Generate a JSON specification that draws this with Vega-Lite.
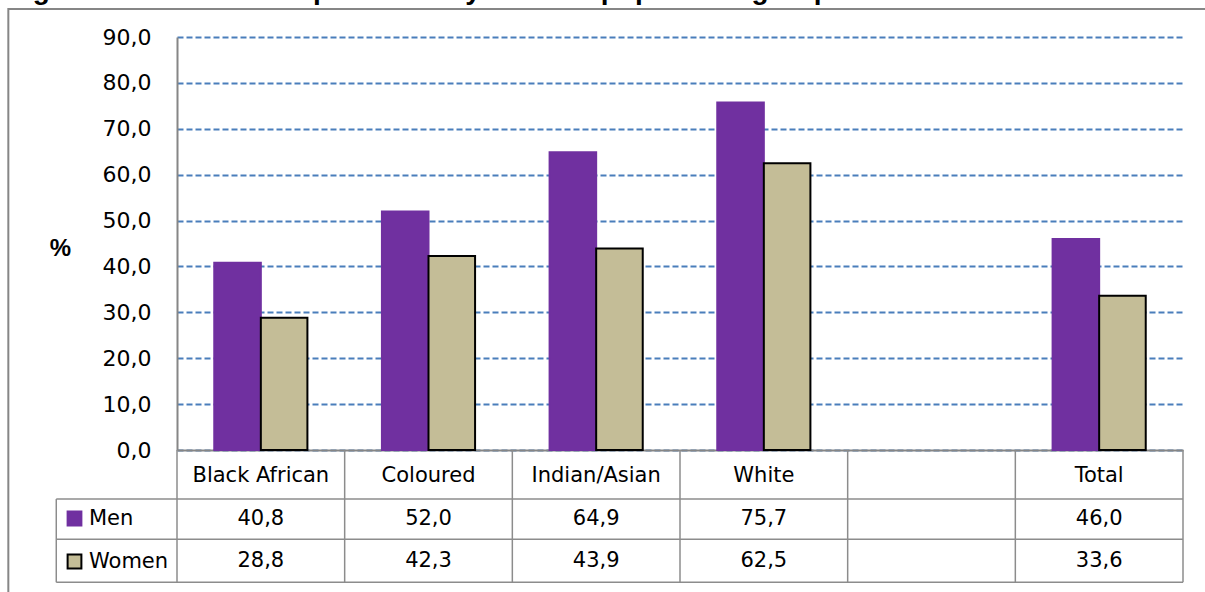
{
  "$schema": "https://vega.github.io/schema/vega-lite/v6.json",
  "width": 1006,
  "height": 413,
  "autosize": {"type": "none"},
  "padding": {"left": 177, "top": 37, "right": 22, "bottom": 142},
  "background": "white",
  "config": {
    "locale": {"number": {"decimal": ",", "thousands": " ", "grouping": [3], "currency": ["", ""]}},
    "view": {"stroke": null},
    "font": "DejaVu Sans"
  },
  "data": {
    "values": [
      {"group": "Black African", "sex": "Men", "value": 40.8},
      {"group": "Black African", "sex": "Women", "value": 28.8},
      {"group": "Coloured", "sex": "Men", "value": 52.0},
      {"group": "Coloured", "sex": "Women", "value": 42.3},
      {"group": "Indian/Asian", "sex": "Men", "value": 64.9},
      {"group": "Indian/Asian", "sex": "Women", "value": 43.9},
      {"group": "White", "sex": "Men", "value": 75.7},
      {"group": "White", "sex": "Women", "value": 62.5},
      {"group": "Total", "sex": "Men", "value": 46.0},
      {"group": "Total", "sex": "Women", "value": 33.6}
    ]
  },
  "layer": [
    {
      "layer": [
        {
          "mark": {"type": "bar", "strokeWidth": 2},
          "encoding": {
            "x": {
              "field": "group", "type": "nominal",
              "scale": {"domain": ["Black African", "Coloured", "Indian/Asian", "White", " ", "Total"], "paddingInner": 0, "paddingOuter": 0},
              "axis": {"title": null, "labelAngle": 0, "labelFont": "DejaVu Sans", "labelFontSize": 21, "labelColor": "black", "labelPadding": 25, "labelBaseline": "middle", "ticks": false, "domainColor": "#868686", "domainWidth": 2, "labelLimit": 300, "grid": false}
            },
            "xOffset": {
              "field": "sex", "type": "nominal",
              "scale": {"domain": ["Men", "Women"], "paddingInner": 0, "paddingOuter": 0.8}
            },
            "y": {
              "field": "value", "type": "quantitative",
              "scale": {"domain": [0, 90], "nice": false},
              "axis": {
                "title": "%", "titleAngle": 0, "titleFont": "Liberation Sans", "titleFontSize": 24, "titleFontWeight": "bold", "titleColor": "black",
                "titleX": -117, "titleY": 211, "titleAlign": "center", "titleBaseline": "middle",
                "values": [0, 10, 20, 30, 40, 50, 60, 70, 80, 90], "format": ".1f",
                "labelFont": "DejaVu Sans", "labelFontSize": 22, "labelColor": "black", "labelPadding": 26,
                "ticks": false, "domainColor": "#868686", "domainWidth": 2,
                "grid": true, "gridColor": "#4A7EBB", "gridDash": [6, 3], "gridWidth": 1.8
              }
            },
            "color": {
              "field": "sex", "type": "nominal",
              "scale": {"domain": ["Men", "Women"], "range": ["#7030A0", "#C4BD97"]},
              "legend": {"orient": "none", "legendX": -113, "legendY": 471, "title": null, "symbolType": "square", "symbolSize": 190, "symbolStrokeWidth": 2, "labelFont": "DejaVu Sans", "labelFontSize": 21, "labelColor": "black", "labelOffset": 4, "rowPadding": 20, "padding": 0, "direction": "vertical"}
            },
            "stroke": {
              "field": "sex", "type": "nominal",
              "scale": {"domain": ["Men", "Women"], "range": ["#7030A0", "#000000"]},
              "legend": {"orient": "none", "legendX": -113, "legendY": 471, "title": null, "symbolType": "square", "symbolSize": 190, "symbolStrokeWidth": 2, "labelFont": "DejaVu Sans", "labelFontSize": 21, "labelColor": "black", "labelOffset": 4, "rowPadding": 20, "padding": 0, "direction": "vertical"}
            }
          }
        },
        {
          "transform": [{"filter": "datum.sex === 'Men'"}],
          "mark": {"type": "text", "font": "DejaVu Sans", "fontSize": 21, "color": "black", "baseline": "middle"},
          "encoding": {
            "x": {"field": "group", "type": "nominal", "scale": {"domain": ["Black African", "Coloured", "Indian/Asian", "White", " ", "Total"], "paddingInner": 0, "paddingOuter": 0}},
            "y": {"datum": -15.0, "type": "quantitative", "scale": {"domain": [0, 90], "nice": false}},
            "text": {"field": "value", "type": "quantitative", "format": ".1f"}
          }
        },
        {
          "transform": [{"filter": "datum.sex === 'Women'"}],
          "mark": {"type": "text", "font": "DejaVu Sans", "fontSize": 21, "color": "black", "baseline": "middle"},
          "encoding": {
            "x": {"field": "group", "type": "nominal", "scale": {"domain": ["Black African", "Coloured", "Indian/Asian", "White", " ", "Total"], "paddingInner": 0, "paddingOuter": 0}},
            "y": {"datum": -24.1, "type": "quantitative", "scale": {"domain": [0, 90], "nice": false}},
            "text": {"field": "value", "type": "quantitative", "format": ".1f"}
          }
        }
      ]
    },
    {
      "data": {"values": [{}]},
      "layer": [
        {
          "mark": {"type": "text", "align": "left", "baseline": "alphabetic", "font": "Liberation Sans", "fontSize": 28, "fontWeight": "bold", "color": "black"},
          "encoding": {
            "x": {"datum": -1.008, "type": "quantitative", "scale": {"domain": [0, 6], "nice": false, "zero": false}, "axis": null},
            "y": {"datum": 98.25, "type": "quantitative", "scale": {"domain": [0, 90], "nice": false}, "axis": null},
            "text": {"value": "Figure 6: Labour absorption rate by sex and population group"}
          }
        },
        {
          "mark": {"type": "rect", "fillOpacity": 0, "stroke": "#868686", "strokeWidth": 2},
          "encoding": {
            "x": {"datum": -1.006, "type": "quantitative", "scale": {"domain": [0, 6], "nice": false, "zero": false}, "axis": null},
            "x2": {"datum": 6.3},
            "y": {"datum": 96.1, "type": "quantitative", "scale": {"domain": [0, 90], "nice": false}, "axis": null},
            "y2": {"datum": -40}
          }
        },
        {
          "mark": {"type": "rule", "stroke": "#8C8C8C", "strokeWidth": 1.5},
          "encoding": {
            "x": {"datum": -0.72, "type": "quantitative", "scale": {"domain": [0, 6], "nice": false, "zero": false}, "axis": null},
            "x2": {"datum": 6},
            "y": {"datum": -10.68, "type": "quantitative", "scale": {"domain": [0, 90], "nice": false}, "axis": null}
          }
        },
        {
          "mark": {"type": "rule", "stroke": "#8C8C8C", "strokeWidth": 1.5},
          "encoding": {
            "x": {"datum": -0.72, "type": "quantitative", "scale": {"domain": [0, 6], "nice": false, "zero": false}, "axis": null},
            "x2": {"datum": 6},
            "y": {"datum": -19.46, "type": "quantitative", "scale": {"domain": [0, 90], "nice": false}, "axis": null}
          }
        },
        {
          "mark": {"type": "rule", "stroke": "#8C8C8C", "strokeWidth": 1.5},
          "encoding": {
            "x": {"datum": -0.72, "type": "quantitative", "scale": {"domain": [0, 6], "nice": false, "zero": false}, "axis": null},
            "x2": {"datum": 6},
            "y": {"datum": -28.83, "type": "quantitative", "scale": {"domain": [0, 90], "nice": false}, "axis": null}
          }
        },
        {
          "mark": {"type": "rule", "stroke": "#8C8C8C", "strokeWidth": 1.5},
          "encoding": {
            "x": {"datum": -0.72, "type": "quantitative", "scale": {"domain": [0, 6], "nice": false, "zero": false}, "axis": null},
            "y": {"datum": -10.68, "type": "quantitative", "scale": {"domain": [0, 90], "nice": false}, "axis": null},
            "y2": {"datum": -28.83}
          }
        },
        {
          "mark": {"type": "rule", "stroke": "#8C8C8C", "strokeWidth": 1.5},
          "encoding": {
            "x": {"datum": 0, "type": "quantitative", "scale": {"domain": [0, 6], "nice": false, "zero": false}, "axis": null},
            "y": {"datum": 0, "type": "quantitative", "scale": {"domain": [0, 90], "nice": false}, "axis": null},
            "y2": {"datum": -28.83}
          }
        },
        {
          "mark": {"type": "rule", "stroke": "#8C8C8C", "strokeWidth": 1.5},
          "encoding": {
            "x": {"datum": 1, "type": "quantitative", "scale": {"domain": [0, 6], "nice": false, "zero": false}, "axis": null},
            "y": {"datum": 0, "type": "quantitative", "scale": {"domain": [0, 90], "nice": false}, "axis": null},
            "y2": {"datum": -28.83}
          }
        },
        {
          "mark": {"type": "rule", "stroke": "#8C8C8C", "strokeWidth": 1.5},
          "encoding": {
            "x": {"datum": 2, "type": "quantitative", "scale": {"domain": [0, 6], "nice": false, "zero": false}, "axis": null},
            "y": {"datum": 0, "type": "quantitative", "scale": {"domain": [0, 90], "nice": false}, "axis": null},
            "y2": {"datum": -28.83}
          }
        },
        {
          "mark": {"type": "rule", "stroke": "#8C8C8C", "strokeWidth": 1.5},
          "encoding": {
            "x": {"datum": 3, "type": "quantitative", "scale": {"domain": [0, 6], "nice": false, "zero": false}, "axis": null},
            "y": {"datum": 0, "type": "quantitative", "scale": {"domain": [0, 90], "nice": false}, "axis": null},
            "y2": {"datum": -28.83}
          }
        },
        {
          "mark": {"type": "rule", "stroke": "#8C8C8C", "strokeWidth": 1.5},
          "encoding": {
            "x": {"datum": 4, "type": "quantitative", "scale": {"domain": [0, 6], "nice": false, "zero": false}, "axis": null},
            "y": {"datum": 0, "type": "quantitative", "scale": {"domain": [0, 90], "nice": false}, "axis": null},
            "y2": {"datum": -28.83}
          }
        },
        {
          "mark": {"type": "rule", "stroke": "#8C8C8C", "strokeWidth": 1.5},
          "encoding": {
            "x": {"datum": 5, "type": "quantitative", "scale": {"domain": [0, 6], "nice": false, "zero": false}, "axis": null},
            "y": {"datum": 0, "type": "quantitative", "scale": {"domain": [0, 90], "nice": false}, "axis": null},
            "y2": {"datum": -28.83}
          }
        },
        {
          "mark": {"type": "rule", "stroke": "#8C8C8C", "strokeWidth": 1.5},
          "encoding": {
            "x": {"datum": 6, "type": "quantitative", "scale": {"domain": [0, 6], "nice": false, "zero": false}, "axis": null},
            "y": {"datum": 0, "type": "quantitative", "scale": {"domain": [0, 90], "nice": false}, "axis": null},
            "y2": {"datum": -28.83}
          }
        }
      ]
    }
  ],
  "resolve": {"scale": {"x": "independent", "y": "independent"}}
}
